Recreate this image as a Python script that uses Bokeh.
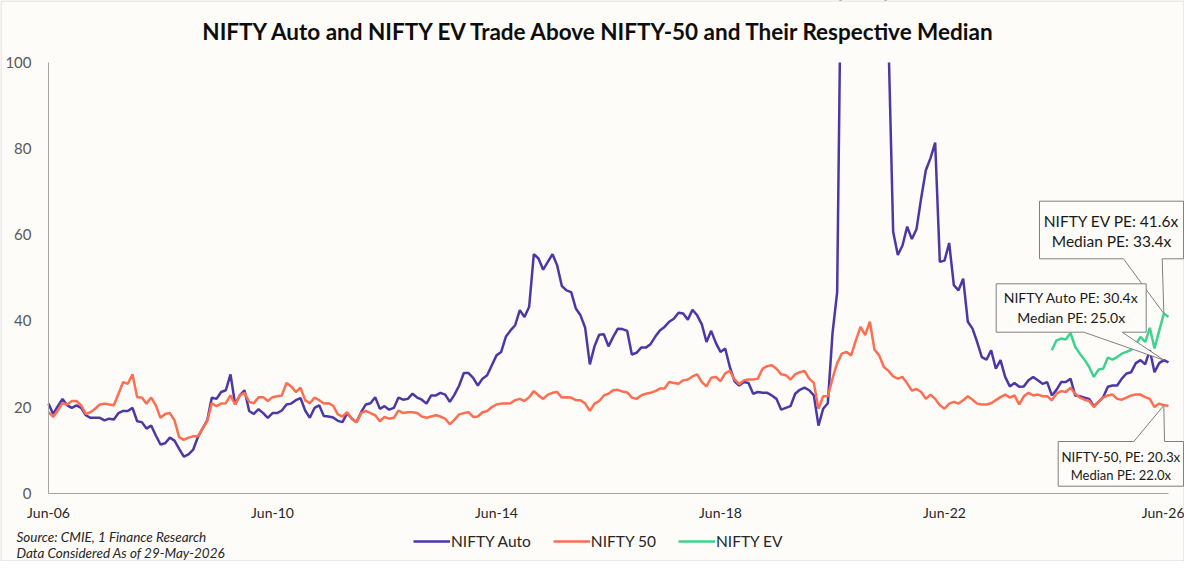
import pandas as pd
from bokeh.plotting import figure
from bokeh.models import FixedTicker, Label, BoxAnnotation, Range1d
from bokeh.core.properties import value
from bokeh.embed import file_html
from bokeh.resources import INLINE

# monthly trailing PE, Jun-2006 .. Jun-2026
dates = pd.date_range("2006-06-01", "2026-06-01", freq="MS")

auto_pe = [
    20.8, 18.4, 20.2, 21.9, 20.4, 19.8, 20.4, 19.8, 18.1, 17.5, 17.5, 17.5,
    16.9, 17.3, 17.1, 18.6, 19.1, 19.1, 19.8, 16.7, 16.5, 15.0, 15.7, 13.4,
    11.3, 11.6, 12.9, 12.2, 10.3, 8.5, 9.0, 10.1, 13.0, 15.0, 16.9, 22.2,
    21.9, 23.5, 23.9, 27.6, 20.6, 22.7, 23.9, 19.1, 18.4, 19.5, 18.6, 17.5,
    18.6, 18.6, 19.2, 20.6, 20.8, 21.6, 22.1, 19.2, 17.5, 19.8, 20.4, 17.9,
    17.8, 17.6, 16.8, 16.5, 18.6, 17.3, 16.5, 18.8, 20.6, 20.9, 22.3, 19.6,
    20.2, 19.4, 19.8, 22.2, 21.7, 21.9, 23.1, 22.2, 21.7, 20.8, 22.7, 22.7,
    23.3, 22.9, 21.2, 22.9, 25.0, 27.9, 27.9, 26.8, 25.0, 26.6, 27.4, 29.7,
    32.0, 32.8, 36.3, 37.8, 39.0, 42.5, 40.9, 43.3, 55.5, 54.5, 51.9, 53.7,
    55.5, 52.9, 48.1, 47.1, 46.7, 42.9, 41.3, 38.4, 29.9, 34.1, 36.8, 36.9,
    34.1, 36.3, 38.2, 38.1, 37.7, 32.2, 32.6, 33.8, 33.8, 34.6, 36.3, 37.8,
    38.6, 39.8, 40.5, 41.9, 41.7, 40.3, 42.6, 41.3, 39.2, 35.1, 37.7, 34.9,
    32.8, 33.6, 29.3, 26.0, 25.0, 25.8, 25.6, 23.1, 23.5, 23.3, 23.3, 22.7,
    21.9, 19.4, 19.8, 20.2, 23.1, 24.0, 24.5, 23.9, 22.7, 15.7, 19.6, 20.9,
    37.1, 46.7, 140.0, 190.0, 260.0, 320.0, 290.0, 240.0, 210.0, 170.0, 140.0, 120.0,
    105.0, 60.7, 55.3, 57.5, 61.9, 59.0, 61.3, 68.5, 75.0, 77.8, 81.4, 53.7,
    54.0, 58.1, 48.3, 47.1, 49.8, 39.8, 38.2, 35.1, 31.6, 31.0, 33.2, 28.9,
    30.9, 27.0, 24.8, 25.6, 24.7, 24.8, 26.2, 27.0, 26.2, 25.4, 25.8, 22.7,
    24.0, 25.8, 25.8, 26.6, 22.7, 22.5, 22.2, 21.9, 20.2, 21.2, 22.3, 24.7,
    25.0, 25.0, 26.6, 27.8, 28.1, 30.2, 30.9, 29.9, 33.2, 28.1, 30.2, 30.9,
    30.4,
]

nifty_pe = [
    18.8, 17.7, 19.2, 20.9, 20.6, 21.4, 21.4, 20.4, 18.4, 18.8, 19.6, 20.6,
    20.8, 20.6, 20.4, 23.1, 25.8, 25.4, 27.6, 22.3, 22.2, 20.8, 22.2, 20.4,
    17.5, 18.4, 18.6, 16.9, 13.0, 12.4, 12.9, 13.2, 13.2, 15.0, 16.7, 20.9,
    20.2, 20.8, 20.9, 22.7, 20.6, 22.7, 23.3, 21.2, 20.9, 22.3, 22.3, 21.4,
    22.3, 22.5, 22.7, 25.6, 24.8, 23.5, 24.5, 21.6, 20.9, 22.2, 21.6, 20.8,
    20.9, 20.3, 18.3, 17.8, 18.8, 17.3, 16.5, 18.6, 19.1, 18.6, 18.1, 16.7,
    17.7, 17.3, 17.5, 19.2, 18.6, 18.8, 18.8, 18.6, 17.8, 17.5, 17.8, 18.1,
    17.8, 17.3, 16.0, 17.1, 18.3, 18.6, 18.8, 17.7, 17.8, 18.8, 19.1, 20.0,
    20.6, 20.8, 20.8, 20.9, 21.6, 21.9, 21.4, 22.3, 23.7, 22.7, 21.9, 22.9,
    23.3, 23.5, 22.2, 22.3, 22.2, 21.6, 21.6, 20.8, 19.1, 20.8, 21.4, 22.7,
    23.1, 23.9, 24.0, 23.6, 23.4, 22.2, 21.9, 22.7, 23.1, 23.3, 23.7, 24.3,
    24.3, 25.8, 25.6, 25.4, 26.2, 26.4, 27.1, 27.6, 25.8, 24.8, 26.8, 27.0,
    26.0, 27.8, 28.4, 26.4, 25.3, 26.2, 26.4, 26.4, 26.6, 28.9, 29.5, 29.7,
    28.9, 27.6, 27.4, 26.4, 27.6, 28.1, 28.4, 26.6, 25.6, 19.6, 22.5, 22.5,
    26.6, 30.2, 32.4, 32.8, 32.0, 35.5, 38.6, 36.7, 39.8, 33.3, 32.0, 29.3,
    28.4, 27.1, 26.6, 27.0, 25.5, 23.8, 24.2, 23.5, 21.9, 22.9, 21.9, 20.4,
    19.6, 20.8, 21.2, 20.8, 21.6, 22.5, 21.7, 20.8, 20.6, 20.6, 20.9, 21.6,
    22.3, 22.9, 22.2, 22.7, 20.6, 22.5, 23.3, 22.7, 22.9, 22.5, 22.5, 21.6,
    23.1, 23.7, 23.5, 24.5, 23.1, 22.2, 21.7, 21.4, 20.0, 21.2, 22.2, 22.7,
    22.9, 21.9, 21.7, 22.2, 22.7, 22.9, 22.9, 22.3, 21.9, 20.0, 20.8, 20.4,
    20.3,
]

# NIFTY EV only has history from May-2024
ev_pe = [
    33.2, 35.5, 35.9, 35.7, 37.2, 34.0, 32.4, 31.0, 29.3, 27.0, 28.7, 28.9,
    31.5, 31.0, 31.6, 32.4, 32.8, 33.3, 34.6, 36.3, 35.1, 38.4, 33.6, 37.7,
    41.7, 40.9,
]

tick_months = [0, 48, 96, 144, 192, 240]
tick_labels = ["Jun-06", "Jun-10", "Jun-14", "Jun-18", "Jun-22", "Jun-26"]
y_ticks = [0, 20, 40, 60, 80, 100]

title = "NIFTY Auto and NIFTY EV Trade Above NIFTY-50 and Their Respective Median"
source_lines = ["Source: CMIE, 1 Finance Research", "Data Considered As of 29-May-2026"]

BG = "#FDFCF8"
PURPLE = "#4A38A6"
ORANGE = "#FF6E50"
GREEN = "#3DD38F"
FONT = "Lato"

months = list(range(len(dates)))
ev_months = months[len(months) - len(ev_pe):]

W, H = 1184, 561
PX_M = 1120 / 240        # px per month
PX_V = 430.7 / 100       # px per PE unit
X0, Y0 = 48, 492.7       # canvas position of (month 0, PE 0)


def mx(px):   # canvas pixel -> month
    return (px - X0) / PX_M


def vy(py):   # canvas pixel -> PE
    return (Y0 - py) / PX_V


# the frame fills the canvas; axes sit at fixed data positions
p = figure(width=W, height=H, output_backend="svg", toolbar_location=None,
           x_range=Range1d(mx(0), mx(W)), y_range=Range1d(vy(H), vy(0)),
           min_border=0)
p.background_fill_color = BG
p.border_fill_color = BG
p.outline_line_color = None
p.grid.visible = False

p.line(months, auto_pe, color=PURPLE, line_width=2.5, legend_label="NIFTY Auto")
p.line(months, nifty_pe, color=ORANGE, line_width=2.5, legend_label="NIFTY 50")
p.line(ev_months, ev_pe, color=GREEN, line_width=2.5, legend_label="NIFTY EV")

# the value axis stops at 100: hide anything drawn above it
p.quad(left=p.x_range.start, right=p.x_range.end, bottom=100, top=p.y_range.end,
       fill_color=BG, line_color=None)

# axes
p.xaxis.fixed_location = 0
p.yaxis.fixed_location = 0
p.xaxis.ticker = FixedTicker(ticks=tick_months)
p.xaxis.major_label_overrides = dict(zip(tick_months, tick_labels))
p.xaxis.bounds = (0, 240)
p.yaxis.ticker = FixedTicker(ticks=y_ticks)
p.yaxis.bounds = (0, 100)
for ax in (p.xaxis[0], p.yaxis[0]):
    ax.axis_line_color = "#A6A6A6"
    ax.axis_line_width = 1
    ax.major_tick_line_color = None
    ax.minor_tick_line_color = None
    ax.major_tick_out = 0
    ax.major_tick_in = 0
    ax.minor_tick_out = 0
    ax.major_label_text_font = FONT
p.xaxis.major_label_text_font_size = "14px"
p.xaxis.major_label_text_color = "#262626"
p.xaxis.major_label_standoff = 11
p.yaxis.major_label_text_font_size = "15px"
p.yaxis.major_label_text_color = "#595959"
p.yaxis.major_label_standoff = 17


# callout boxes pointing at the latest readings (box geometry in canvas px)
def callout(left, right, top, bottom, w1, w2, tip_x, tip_y, side, lines):
    L, R, T, B, a, b = mx(left), mx(right), vy(top), vy(bottom), mx(w1), mx(w2)
    if side == "bottom":
        xs = [L, R, R, b, tip_x, a, L]
        ys = [T, T, B, B, tip_y, B, B]
    else:
        xs = [L, a, tip_x, b, R, R, L]
        ys = [T, T, tip_y, T, T, B, B]
    p.patch(xs, ys, fill_color=BG, line_color="#7F7F7F", line_width=1)
    cx = (L + R) / 2
    for txt, py, size in lines:
        p.text(x=[cx], y=[vy(py)], text=[txt], text_font=value(FONT), text_font_size=size,
               text_align="center", text_baseline="middle", text_color="#1A1A1A")


tip = months[-2]
callout(1039, 1183, 200.7, 258.3, 1123, 1161.7, tip, ev_pe[-2], "bottom",
        [("NIFTY EV PE: 41.6x", 220.7, "15.5px"), ("Median PE: 33.4x", 240, "15.5px")])
callout(995.7, 1145.7, 283.3, 331.7, 1083.3, 1121.7, tip, auto_pe[-2], "bottom",
        [("NIFTY Auto PE: 30.4x", 296.7, "14px"), ("Median PE: 25.0x", 316.7, "14px")])
callout(1057.7, 1183, 441, 485.7, 1133.3, 1164, tip, nifty_pe[-2], "top",
        [("NIFTY-50, PE: 20.3x", 456.7, "13.3px"), ("Median PE: 22.0x", 474.3, "13px")])

# legend under the axis
lg = p.legend[0]
lg.orientation = "horizontal"
lg.location = (413, H - 541 - 10)
lg.background_fill_alpha = 0
lg.border_line_color = None
lg.padding = 0
lg.margin = 0
lg.spacing = 22
lg.glyph_width = 37
lg.glyph_height = 20
lg.label_height = 20
lg.label_standoff = 1
lg.label_text_font = FONT
lg.label_text_font_size = "15.5px"
lg.label_text_color = "#262626"

p.add_layout(Label(x=600, y=31, x_units="canvas", y_units="canvas", text=title,
                   text_font=FONT, text_font_size="22.5px", text_font_style="bold",
                   text_color="#0D0D0D", text_align="center", text_baseline="middle"))
for i, line in enumerate(source_lines):
    p.add_layout(Label(x=16, y=536 + 16 * i, x_units="canvas", y_units="canvas",
                       text=line, text_font=FONT, text_font_size="13.5px",
                       text_font_style="italic", text_color="#262626",
                       text_align="left", text_baseline="middle"))

p.add_layout(BoxAnnotation(left=0.5, right=W - 0.5, top=0.5, bottom=H - 0.5,
                           left_units="canvas", right_units="canvas",
                           top_units="canvas", bottom_units="canvas",
                           fill_color=None, line_color="#8C8C8C", line_width=1))

open("out.html", "w").write(file_html(p, INLINE))
